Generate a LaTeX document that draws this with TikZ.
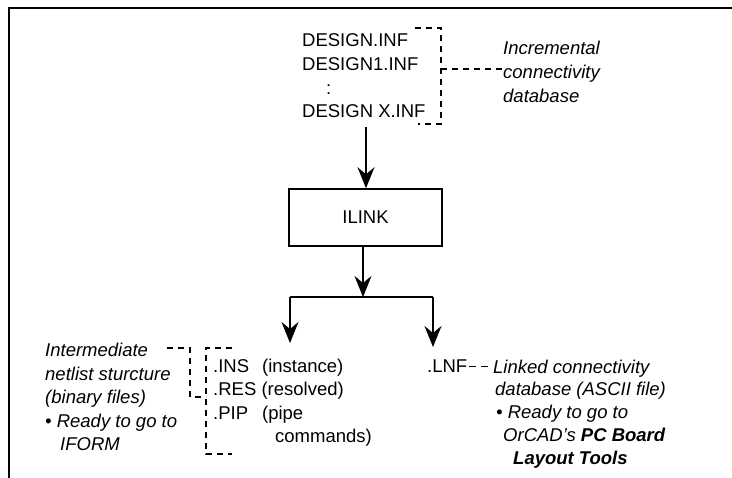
\documentclass[tikz,border=0pt]{standalone}
\usepackage{fontspec}
\setmainfont{Liberation Sans}
\usetikzlibrary{arrows.meta}
\begin{document}
\begin{tikzpicture}[x=1pt,y=-1pt,
  txt/.style={inner sep=0pt,align=left,font=\fontsize{18.5}{23.6}\selectfont},
  itx/.style={inner sep=0pt,align=left,font=\fontsize{18.5}{23.6}\selectfont\itshape},
  dsh/.style={line width=1.3pt,dash pattern=on 6pt off 5pt},
  arr/.style={line width=1.3pt,-{Stealth[length=21pt,width=17pt,inset=7pt]}},
  boxst/.style={draw,line width=1.5pt,minimum width=153pt,minimum height=57pt,inner sep=0pt,font=\fontsize{18.5}{23.6}\selectfont}
  ]
\useasboundingbox (0,0) rectangle (732,478);
\draw[line width=2pt] (9,478) -- (9,8) -- (732,8);

% top files (base anchor = last line)
\node[txt,anchor=base west] (inf) at (302,117.8) {DESIGN.INF\\DESIGN1.INF\\\hspace{24pt}:\\DESIGN X.INF};
\coordinate (bt) at (441,69);
\draw[dsh] (415,28) -- (441,28) -- (441,124) -- (418,124);
\node[itx,anchor=base west] (incr) at (503,102.2) {Incremental\\connectivity\\database};
\draw[dsh] (bt) -- (incr.west |- bt);

% ILINK
\node[boxst] (ilink) at (365.5,217.5) {ILINK};
\coordinate (top) at (366,127);
\draw[arr] (top) -- (ilink.north -| top);

% branch
\coordinate (j) at (363,297);
\coordinate (jl) at (290,297);
\coordinate (jr) at (433,297);
\coordinate (tl) at (290,343);
\coordinate (tr) at (433,347);
\draw[arr] (ilink.south -| j) -- (j);
\draw[line width=1.3pt] (jl) -- (jr);
\draw[arr] (jl) -- (tl);
\draw[arr] (jr) -- (tr);

% left group
\node[txt,anchor=base west] (ins) at (213,443) {.INS\hspace{13pt}(instance)\\.RES (resolved)\\.PIP\hspace{14pt}(pipe\\\hspace{62pt}commands)};
\draw[dsh] (232,348) -- (206,348) -- (206,454) -- (232,454);
\coordinate (lb) at (206,397);
\node[itx,anchor=base west] (interm) at (45,451) {Intermediate\\netlist sturcture\\(binary files)\\• Ready to go to\\\hspace{15pt}IFORM};
\draw[dsh] (167,348) -- (190,348) -- (190,397) -- (lb);

% right group
\node[txt,anchor=base west] (lnf) at (427,373) {.LNF};
\node[itx,anchor=base west,font=\fontsize{18.5}{22.8}\selectfont\itshape] (linked) at (493,464.2) {Linked connectivity\\\hspace{2pt}database (ASCII file)\\\hspace{3pt}• Ready to go to\\\hspace{10pt}OrCAD's \textbf{PC Board}\\\hspace{20pt}\textbf{Layout Tools}};
\coordinate (ld) at ([xshift=2pt]lnf.east);
\draw[line width=1.3pt,dash pattern=on 7pt off 5pt] (ld) -- ([xshift=-3pt]linked.west |- ld);
\end{tikzpicture}
\end{document}
